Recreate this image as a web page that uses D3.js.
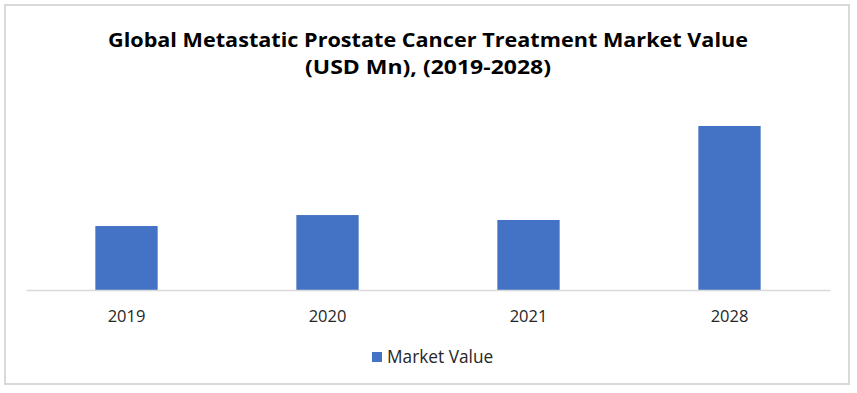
<!DOCTYPE html>
<html>
<head>
<meta charset="utf-8">
<script src="https://cdn.jsdelivr.net/npm/d3@7"></script>
<style>
  html, body { margin: 0; padding: 0; background: #fff; }
  svg { display: block; }
</style>
</head>
<body>
<div id="chart"></div>
<script>
// values (no y axis shown, so scale is estimated)
const years = ['2019', '2020', '2021', '2028'];
const marketValue = [3900, 4570, 4270, 10000];
const seriesName = 'Market Value';
const titleLines = ['Global Metastatic Prostate Cancer Treatment Market Value', '(USD Mn), (2019-2028)'];

const W = 857, H = 393;
const font = "'Open Sans', 'Noto Sans', sans-serif";

const svg = d3.select('#chart').append('svg')
  .attr('width', W)
  .attr('height', H);

// outer frame
svg.append('rect')
  .attr('x', 5).attr('y', 5)
  .attr('width', 844).attr('height', 379)
  .attr('fill', '#fff')
  .attr('stroke', '#d9d9d9')
  .attr('stroke-width', 2);

// title
svg.append('g')
  .selectAll('text')
  .data(titleLines)
  .enter()
  .append('text')
  .attr('x', 428)
  .attr('y', (d, i) => 47 + i * 27)
  .attr('text-anchor', 'middle')
  .attr('textLength', (d, i) => i === 0 ? 640 : 246)
  .attr('lengthAdjust', 'spacingAndGlyphs')
  .style('font-family', font)
  .style('font-weight', 'bold')
  .style('font-size', '19px')
  .style('fill', '#000')
  .text(d => d);

const x = d3.scaleBand()
  .domain(years)
  .range([26, 830])
  .paddingInner(0.69)
  .paddingOuter(0.345);

const y = d3.scaleLinear()
  .domain([0, 10000])
  .range([290, 126]);

svg.append('g')
  .selectAll('rect')
  .data(years)
  .enter()
  .append('rect')
  .attr('x', d => x(d))
  .attr('y', (d, i) => y(marketValue[i]))
  .attr('width', x.bandwidth())
  .attr('height', (d, i) => y(0) - y(marketValue[i]))
  .attr('fill', '#4472c4');

const xAxis = svg.append('g')
  .attr('transform', `translate(0,${y(0)})`)
  .call(d3.axisBottom(x).tickSize(0).tickPadding(20).tickSizeOuter(0));

xAxis.select('.domain')
  .attr('stroke', '#d9d9d9')
  .attr('stroke-width', 1.5);

xAxis.selectAll('text')
  .style('font-family', font)
  .style('font-size', '16.5px')
  .style('fill', '#262626');

// legend
const legend = svg.append('g').attr('transform', 'translate(372,352)');
legend.append('rect')
  .attr('width', 10).attr('height', 10)
  .attr('fill', '#4472c4');
legend.append('text')
  .attr('x', 15)
  .attr('y', 11)
  .style('font-family', font)
  .style('font-size', '17.3px')
  .style('fill', '#262626')
  .text(seriesName);
</script>
</body>
</html>
